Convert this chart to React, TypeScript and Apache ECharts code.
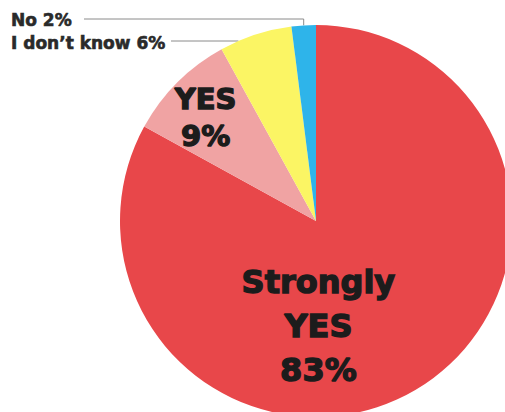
import React, { useEffect, useRef } from "react";
import * as echarts from "echarts";

const categories = ["Strongly YES", "YES", "I don’t know", "No"];
const values = [83, 9, 6, 2];
const insideLabels = ["Strongly\nYES\n83%", "YES\n9%", "", ""];
const outsideLabels = ["", "", "I don’t know 6%", "No 2%"];
const colors = ["#E8474A", "#F0A3A3", "#FBF564", "#2EB4EA"];

const CX = 316;
const CY = 221;
const R = 196;

export default function App() {
  const ref = useRef<HTMLDivElement>(null);
  useEffect(() => {
    if (!ref.current) return;
    const chart = echarts.init(ref.current, undefined, { renderer: "svg" });
    const insideStyle = (i: number, size: number, lh: number, offset: number[]) => ({
      show: true,
      position: "inside",
      formatter: insideLabels[i],
      fontFamily: "DejaVu Sans",
      fontWeight: "bold",
      fontSize: size,
      lineHeight: lh,
      color: "#1c1c1c",
      textBorderColor: "#1c1c1c",
      textBorderWidth: 1.4,
      align: "center",
      offset,
    });
    const outsideStyle = (i: number) => ({
      show: true,
      position: "outside",
      formatter: outsideLabels[i],
      fontFamily: "DejaVu Sans",
      fontWeight: "bold",
      fontSize: 17,
      color: "#2a2a2a",
      textBorderColor: "#2a2a2a",
      textBorderWidth: 0.6,
    });
    const data = categories.map((name, i) => ({
      name,
      value: values[i],
      itemStyle: { color: colors[i] },
      label:
        i === 0
          ? insideStyle(i, 32, 44, [-49, 18])
          : i === 1
          ? insideStyle(i, 29, 37, [-39, -32])
          : outsideStyle(i),
      labelLine: { show: i >= 2, lineStyle: { color: "#8a8a8a", width: 1 } },
    }));
    chart.setOption({
      animation: false,
      backgroundColor: "#ffffff",
      series: [
        {
          type: "pie",
          center: [CX, CY],
          radius: [0, R],
          startAngle: 90,
          clockwise: true,
          avoidLabelOverlap: false,
          itemStyle: { borderWidth: 0 },
          emphasis: { disabled: true },
          data,
          labelLayout: (params: any) => {
            if (params.dataIndex === 3) {
              const ly = 19;
              const ang = ((100 - values[3] / 2) / 100) * Math.PI * 2;
              const ex = CX + R * Math.sin(ang);
              const ey = CY - R * Math.cos(ang);
              return {
                x: 11,
                y: 20,
                align: "left",
                verticalAlign: "middle",
                labelLinePoints: [
                  [ex, ey],
                  [ex, ly],
                  [84, ly],
                ],
              };
            }
            if (params.dataIndex === 2) {
              const ly = 41;
              const ex = CX - Math.sqrt(R * R - (CY - ly) * (CY - ly));
              return {
                x: 11,
                y: 43,
                align: "left",
                verticalAlign: "middle",
                labelLinePoints: [
                  [ex, ly],
                  [ex, ly],
                  [171, ly],
                ],
              };
            }
            return {};
          },
        },
      ],
    });
    return () => chart.dispose();
  }, []);
  return (
    <div
      ref={ref}
      style={{ position: "fixed", left: 0, top: 0, width: 505, height: 412, background: "#fff" }}
    />
  );
}
